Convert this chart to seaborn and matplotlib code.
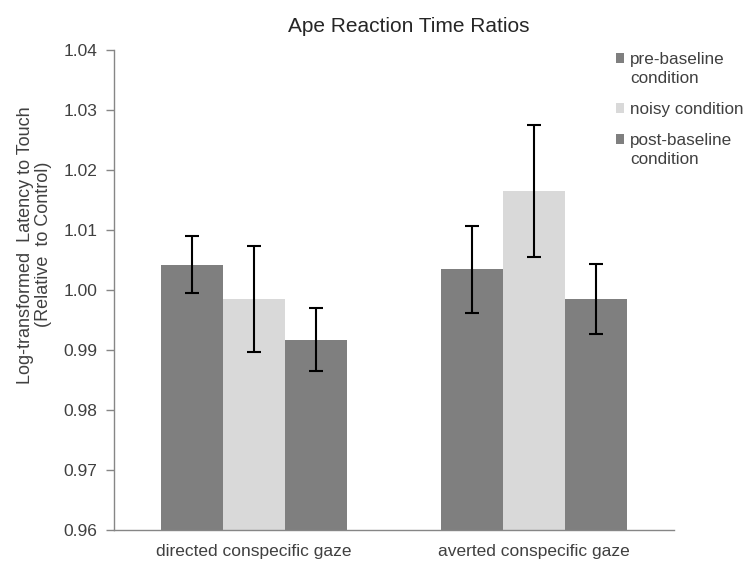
import pandas as pd
import seaborn as sns
import matplotlib.pyplot as plt
from matplotlib.patches import Patch, Rectangle
from matplotlib.legend_handler import HandlerPatch

# Values
gaze = ["directed conspecific gaze", "averted conspecific gaze"]
conditions = ["pre-baseline\ncondition", "noisy condition", "post-baseline\ncondition"]
means = {
    "pre-baseline\ncondition": [1.0042, 1.0034],
    "noisy condition": [0.9985, 1.0165],
    "post-baseline\ncondition": [0.9917, 0.9985],
}
errors = {
    "pre-baseline\ncondition": [0.0047, 0.0072],
    "noisy condition": [0.0088, 0.0110],
    "post-baseline\ncondition": [0.0052, 0.0058],
}
colors = ["#7f7f7f", "#d9d9d9", "#7f7f7f"]

rows = []
for c in conditions:
    for g, m in zip(gaze, means[c]):
        rows.append({"gaze": g, "condition": c, "value": m})
df = pd.DataFrame(rows)


# legend square sitting next to the first line of a two-line label
class TopSquare(HandlerPatch):
    def __init__(self, shift=0, **kw):
        super().__init__(**kw)
        self.shift = shift

    def create_artists(self, legend, orig_handle, xdescent, ydescent,
                       width, height, fontsize, trans):
        p = Rectangle((-xdescent, -ydescent + self.shift), width, height)
        self.update_prop(p, orig_handle, legend)
        p.set_transform(trans)
        return [p]


sns.set_style("white")
plt.rcParams["font.family"] = ["Liberation Sans", "DejaVu Sans"]
text_col = "#404040"

fig = plt.figure(figsize=(7.47, 5.66), dpi=100)
ax = fig.add_axes([0.1526, 0.0636, 0.7497, 0.8486])

sns.barplot(data=df, x="gaze", y="value", hue="condition", order=gaze,
            hue_order=conditions, palette=colors, width=0.664,
            errorbar=None, legend=False, ax=ax, linewidth=0, saturation=1)

# error bars at the bar centres
for c, cont in zip(conditions, ax.containers):
    xs = [b.get_x() + b.get_width() / 2 for b in cont]
    ax.errorbar(xs, means[c], yerr=errors[c], fmt="none", ecolor="black",
                elinewidth=1.5, capsize=5, capthick=1.5)

ax.set_ylim(0.96, 1.04)
ax.set_xlim(-0.5, 1.5)
ax.set_yticks([0.96, 0.97, 0.98, 0.99, 1.00, 1.01, 1.02, 1.03, 1.04])
ax.set_yticklabels([f"{v:.2f}" for v in ax.get_yticks()])
ax.set_xticks([-0.5, 0.5, 1.5], minor=True)
ax.tick_params(axis="x", which="major", length=0, labelsize=12.5,
               labelcolor=text_col, pad=10)
ax.tick_params(axis="x", which="minor", length=5, color="#868686", width=1)
ax.tick_params(axis="y", length=6, color="#868686", width=1,
               labelsize=12.5, labelcolor=text_col, pad=6, left=True)

for s in ["top", "right"]:
    ax.spines[s].set_visible(False)
for s in ["left", "bottom"]:
    ax.spines[s].set_color("#868686")
    ax.spines[s].set_linewidth(1)

ax.set_xlabel("")
ax.set_ylabel("Log-transformed  Latency to Touch\n(Relative  to Control)",
              fontsize=13, color=text_col, labelpad=8.5, linespacing=1.05,
              y=0.594)
ax.set_title("Ape Reaction Time Ratios", fontsize=15, color="#262626",
             x=0.527, pad=13)

handles = [Patch(facecolor=col, edgecolor="none") for col in colors]
hmap = {handles[0]: TopSquare(shift=8), handles[1]: TopSquare(shift=0),
        handles[2]: TopSquare(shift=8)}
leg = fig.legend(handles, conditions, loc="upper left", handler_map=hmap,
                 bbox_to_anchor=(0.8246, 0.908), frameon=False, fontsize=12.3,
                 labelcolor=text_col, handlelength=0.47, handleheight=0.47,
                 handletextpad=0.35, labelspacing=0.93, borderaxespad=0,
                 borderpad=0)
for t in leg.get_texts():
    t.set_linespacing(1.35)

fig.savefig("out.png", dpi=100)
